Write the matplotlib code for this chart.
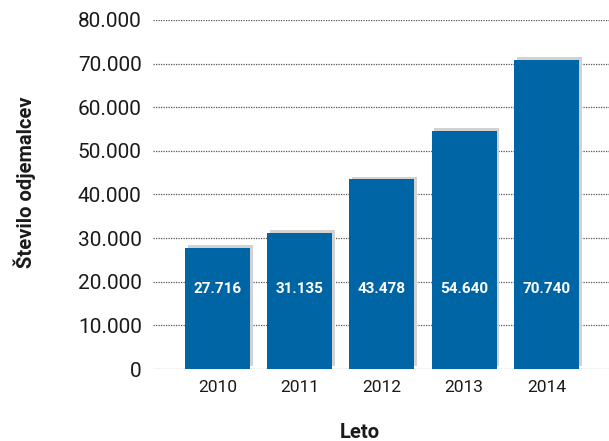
import matplotlib
matplotlib.use("Agg")
import matplotlib.pyplot as plt
import matplotlib.patheffects as pe
from matplotlib.ticker import FuncFormatter

years = ["2010", "2011", "2012", "2013", "2014"]
values = [27716, 31135, 43478, 54640, 70740]
value_labels = ["27.716", "31.135", "43.478", "54.640", "70.740"]
yticks = [0, 10000, 20000, 30000, 40000, 50000, 60000, 70000, 80000]

plt.rcParams['font.family'] = ['Roboto', 'DejaVu Sans']

fig = plt.figure(figsize=(6.09, 4.41), dpi=100)
ax = fig.add_axes([0.251, 0.163, 0.749, 0.792])

x = list(range(len(years)))
bars = ax.bar(x, values, width=0.79, color='#0065A5', zorder=3)
for b in bars:
    b.set_path_effects([pe.SimplePatchShadow(offset=(2, 2), shadow_rgbFace='#d2d2d2', alpha=1.0), pe.Normal()])

for xi, lab in zip(x, value_labels):
    ax.text(xi, 18300, lab, color='white', fontsize=11, fontweight='bold',
            ha='center', va='center', zorder=4)

ax.set_ylim(0, 80000)
ax.set_xlim(-0.784, 4.76)
ax.set_yticks(yticks)
ax.yaxis.set_major_formatter(FuncFormatter(lambda v, p: "0" if v == 0 else f"{int(v):,}".replace(",", ".")))
ax.set_xticks(x)
ax.set_xticklabels(years)
ax.tick_params(axis='y', length=0, labelsize=15, pad=8, colors='#1a1a1a')
ax.tick_params(axis='x', length=0, labelsize=12.5, pad=8, colors='#1a1a1a')
ax.grid(axis='y', linestyle=(0, (1, 1)), color='#555555', linewidth=0.9, zorder=0)
ax.set_axisbelow(True)
for s in ax.spines.values():
    s.set_visible(False)

fig.text(25 / 609, 1 - 182 / 441, "Število odjemalcev", fontsize=14.5, fontweight='bold',
         rotation=90, ha='center', va='center', color='#1a1a1a')
fig.text(360 / 609, 1 - 433 / 441, "Leto", fontsize=14.5, fontweight='bold',
         ha='center', va='center', color='#1a1a1a')

fig.savefig("out.png", dpi=100)
